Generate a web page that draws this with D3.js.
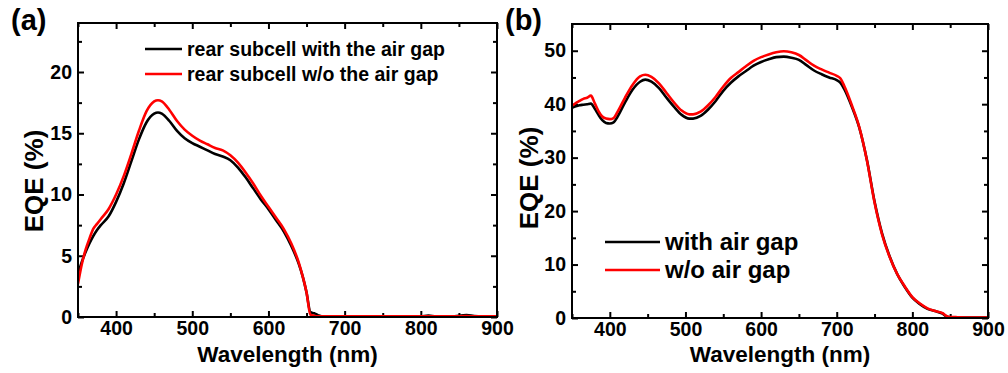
<!DOCTYPE html>
<html>
<head>
<meta charset="utf-8">
<script src="https://cdn.jsdelivr.net/npm/d3@7"></script>
<style>
  body { margin: 0; background: #fff; }
  svg { display: block; font-family: "Liberation Sans", Arial, sans-serif; font-weight: bold; }
</style>
</head>
<body>
<svg id="chart" width="1008" height="373"></svg>
<script>
// panel (a): rear subcell EQE
const wavelengthA = [350, 355, 360, 365, 370, 375, 380, 390, 400, 410, 420, 430, 440, 450, 455, 460, 470, 480, 490, 500,
  510, 520, 530, 540, 550, 560, 570, 580, 590, 600, 610, 620, 630, 640, 645, 650, 655, 660, 665, 670,
  680, 690, 700, 710, 720, 740, 760, 780, 800, 810, 820, 840, 860, 870, 880, 900];
const rearWithGap = [3.5, 4.5, 5.3, 6.0, 6.6, 7.1, 7.5, 8.2, 9.4, 10.9, 12.7, 14.5, 15.9, 16.6, 16.7, 16.6, 16.0, 15.2, 14.6, 14.2,
  13.9, 13.6, 13.3, 13.1, 12.8, 12.2, 11.4, 10.5, 9.6, 8.8, 7.9, 7.0, 5.8, 4.3, 3.3, 2.0, 0.4, 0.3, 0.15, 0.05,
  0.05, 0.03, 0.05, 0.05, 0.03, 0.05, 0.05, 0.03, 0.05, 0.12, 0.05, 0.05, 0.15, 0.08, 0.05, 0.05];
const rearNoGap = [2.7, 4.3, 5.5, 6.4, 7.2, 7.6, 8.0, 8.8, 10.0, 11.5, 13.3, 15.2, 16.8, 17.6, 17.7, 17.6, 16.9, 16.0, 15.3, 14.8,
  14.4, 14.1, 13.8, 13.6, 13.2, 12.6, 11.8, 10.9, 9.9, 9.0, 8.1, 7.2, 6.0, 4.4, 3.3, 2.0, 0.2, 0.1, 0.05, 0.05,
  0.05, 0.05, 0.05, 0.05, 0.05, 0.05, 0.05, 0.05, 0.05, 0.05, 0.05, 0.05, 0.08, 0.05, 0.05, 0.05];

// panel (b): full device EQE
const wavelengthB = [350, 355, 360, 365, 370, 375, 380, 385, 390, 395, 400, 405, 410, 420, 430, 440, 447, 455, 465, 475,
  485, 495, 505, 510, 520, 530, 540, 550, 560, 570, 580, 590, 600, 610, 620, 630, 640, 650, 660, 670,
  680, 690, 700, 705, 710, 720, 730, 740, 750, 760, 770, 780, 790, 800, 810, 820, 830, 840, 845, 850,
  860, 880, 900];
const withGap = [39.3, 39.6, 39.8, 39.9, 40.0, 40.1, 39.2, 38.0, 37.0, 36.5, 36.4, 36.6, 37.6, 40.3, 42.7, 44.2, 44.6, 44.2, 43.0, 41.2,
  39.5, 38.0, 37.3, 37.3, 37.8, 39.0, 40.6, 42.5, 44.0, 45.2, 46.2, 47.2, 47.9, 48.4, 48.8, 48.9, 48.7, 48.3, 47.3, 46.3,
  45.6, 45.0, 44.5, 44.0, 42.8, 39.5, 35.5, 29.5, 21.8, 15.8, 11.5, 8.2, 5.8, 3.8, 2.6, 1.7, 1.3, 0.8, 0.3, 0.15,
  0.1, 0.1, 0.1];
const noGap = [39.7, 40.2, 40.6, 41.0, 41.2, 41.6, 40.2, 38.7, 37.7, 37.3, 37.2, 37.4, 38.5, 41.2, 43.6, 45.2, 45.5, 45.1, 43.9, 42.1,
  40.3, 38.8, 38.1, 38.1, 38.6, 39.8, 41.4, 43.3, 44.9, 46.0, 47.1, 48.1, 48.8, 49.3, 49.7, 49.9, 49.7, 49.2, 48.2, 47.2,
  46.5, 45.9, 45.3, 44.8, 43.4, 39.8, 35.6, 29.4, 21.6, 15.6, 11.4, 8.2, 5.9, 3.9, 2.7, 1.8, 1.3, 0.9, 0.4, 0.2,
  0.15, 0.1, 0.1];

const xTicks = [400, 500, 600, 700, 800, 900];
const xMinorTicks = [350, 450, 550, 650, 750, 850];

const svg = d3.select("#chart");

function drawPanel(cfg) {
  const { left, right, top, bottom } = cfg.box;
  const x = d3.scaleLinear().domain([350, 900]).range([left, right]);
  const y = d3.scaleLinear().domain(cfg.yDomain).range([bottom, top]);
  const g = svg.append("g");

  g.append("clipPath").attr("id", cfg.id + "-clip")
    .append("rect").attr("x", left).attr("y", top).attr("width", right - left).attr("height", bottom - top);

  const styleAxis = (sel) => {
    sel.select(".domain").remove();
    sel.selectAll("line").attr("stroke", "#000").attr("stroke-width", 2);
    sel.selectAll("text").attr("fill", "#000").style("font-size", "19.5px").style("font-weight", "bold");
  };

  // major + minor ticks, all four sides, pointing inward
  g.append("g").attr("transform", `translate(0,${bottom})`)
    .call(d3.axisBottom(x).tickValues(xTicks).tickSize(-6).tickPadding(4)).call(styleAxis);
  g.append("g").attr("transform", `translate(0,${bottom})`)
    .call(d3.axisBottom(x).tickValues(xMinorTicks).tickSize(-4).tickFormat("")).call(styleAxis);
  g.append("g").attr("transform", `translate(0,${top})`)
    .call(d3.axisTop(x).tickValues(xTicks).tickSize(-6).tickFormat("")).call(styleAxis);
  g.append("g").attr("transform", `translate(0,${top})`)
    .call(d3.axisTop(x).tickValues(xMinorTicks).tickSize(-4).tickFormat("")).call(styleAxis);

  g.append("g").attr("transform", `translate(${left},0)`)
    .call(d3.axisLeft(y).tickValues(cfg.yTicks).tickSize(-6).tickPadding(6)).call(styleAxis);
  g.append("g").attr("transform", `translate(${left},0)`)
    .call(d3.axisLeft(y).tickValues(cfg.yMinor).tickSize(-4).tickFormat("")).call(styleAxis);
  g.append("g").attr("transform", `translate(${right},0)`)
    .call(d3.axisRight(y).tickValues(cfg.yTicks).tickSize(-6).tickFormat("")).call(styleAxis);
  g.append("g").attr("transform", `translate(${right},0)`)
    .call(d3.axisRight(y).tickValues(cfg.yMinor).tickSize(-4).tickFormat("")).call(styleAxis);

  const line = d3.line().curve(d3.curveMonotoneX).x((d) => x(d[0])).y((d) => y(d[1]));
  const lines = g.append("g").attr("clip-path", `url(#${cfg.id}-clip)`);
  cfg.series.forEach((s) => {
    lines.append("path")
      .datum(cfg.wavelength.map((w, i) => [w, s.values[i]]))
      .attr("fill", "none")
      .attr("stroke", s.color)
      .attr("stroke-width", 2.6)
      .attr("stroke-linejoin", "round")
      .attr("d", line);
  });

  g.append("rect")
    .attr("x", left).attr("y", top)
    .attr("width", right - left).attr("height", bottom - top)
    .attr("fill", "none").attr("stroke", "#000").attr("stroke-width", 2);

  // legend
  cfg.series.forEach((s, i) => {
    const ly = cfg.legend.y + i * cfg.legend.gap;
    g.append("line")
      .attr("x1", cfg.legend.x1).attr("x2", cfg.legend.x2)
      .attr("y1", ly).attr("y2", ly)
      .attr("stroke", s.color).attr("stroke-width", 2.6);
    g.append("text")
      .attr("x", cfg.legend.x2 + 5).attr("y", ly)
      .attr("dy", "0.35em")
      .style("font-size", cfg.legend.size + "px")
      .text(s.label);
  });

  g.append("text")
    .attr("x", (left + right) / 2).attr("y", 362)
    .attr("text-anchor", "middle")
    .style("font-size", "22.5px")
    .text("Wavelength (nm)");

  g.append("text")
    .attr("transform", `translate(${cfg.yTitle[0]},${cfg.yTitle[1]}) rotate(-90)`)
    .attr("text-anchor", "middle")
    .style("font-size", "26px")
    .text("EQE (%)");

  g.append("text")
    .attr("x", cfg.tag[0]).attr("y", cfg.tag[1])
    .style("font-size", "29px")
    .text(cfg.tagText);
}

drawPanel({
  id: "a",
  box: { left: 78, right: 497, top: 23, bottom: 317 },
  yDomain: [0, 24],
  yTicks: [0, 5, 10, 15, 20],
  yMinor: [2.5, 7.5, 12.5, 17.5, 22.5],
  wavelength: wavelengthA,
  series: [
    { label: "rear subcell with the air gap", color: "#000", values: rearWithGap },
    { label: "rear subcell w/o the air gap", color: "#ff0000", values: rearNoGap },
  ],
  legend: { x1: 145, x2: 182, y: 49, gap: 25, size: 19.5 },
  yTitle: [43, 181],
  tag: [11, 30],
  tagText: "(a)",
});

drawPanel({
  id: "b",
  box: { left: 572, right: 988, top: 24, bottom: 318 },
  yDomain: [0, 55],
  yTicks: [0, 10, 20, 30, 40, 50],
  yMinor: [5, 15, 25, 35, 45],
  wavelength: wavelengthB,
  series: [
    { label: "with air gap", color: "#000", values: withGap },
    { label: "w/o air gap", color: "#ff0000", values: noGap },
  ],
  legend: { x1: 605, x2: 660, y: 242, gap: 28, size: 24 },
  yTitle: [538, 178],
  tag: [505, 30],
  tagText: "(b)",
});
</script>
</body>
</html>
